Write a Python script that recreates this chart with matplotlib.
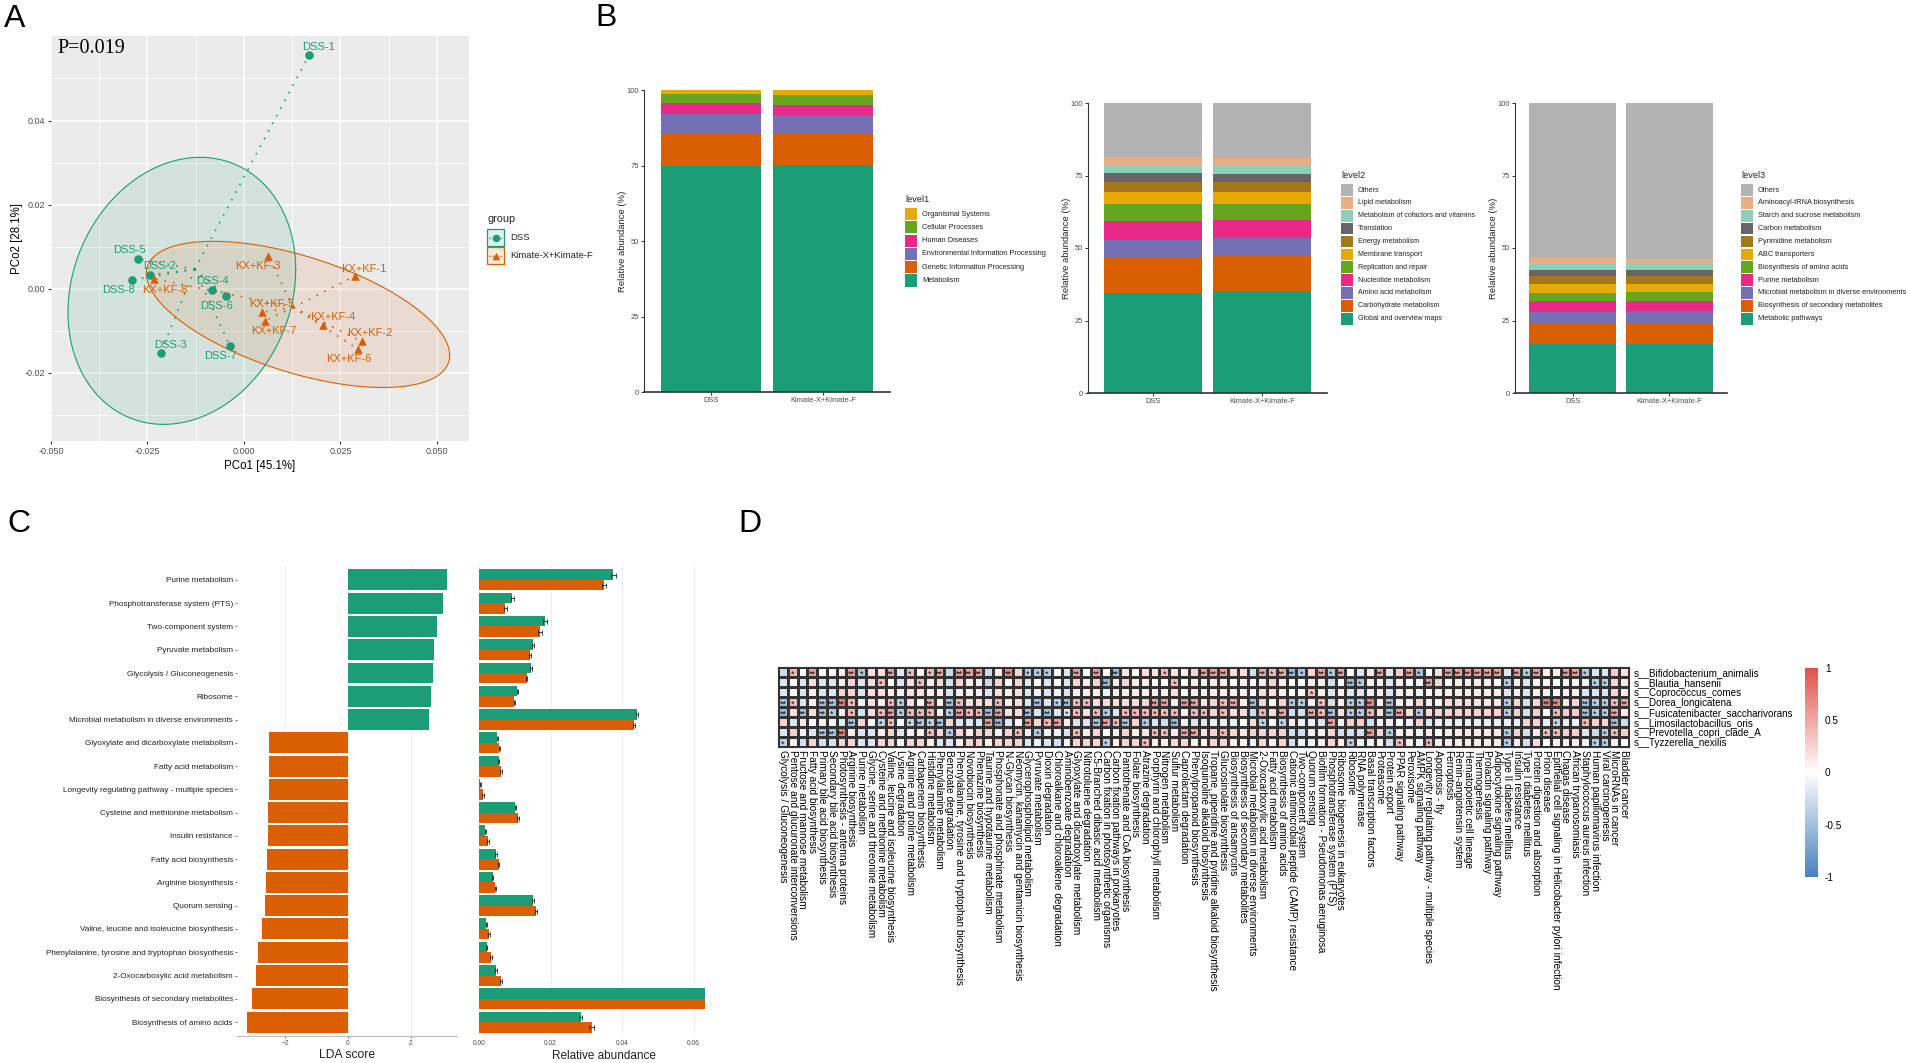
import numpy as np
import matplotlib
matplotlib.use("Agg")
import matplotlib.pyplot as plt
from matplotlib.colors import LinearSegmentedColormap, Normalize
from matplotlib.cm import ScalarMappable
from matplotlib.patches import Rectangle

plt.rcParams['font.family'] = ['Liberation Sans', 'DejaVu Sans']

W, H = 1910, 1063
GREEN, ORANGE = '#1B9E77', '#D95F02'
PALETTE = ['#1B9E77', '#D95F02', '#7570B3', '#E7298A', '#66A61E', '#E6AB02',
           '#A6761D', '#666666', '#8DCFB9', '#EBAD82', '#B3B3B3']

# --- Panel A data ---
dss_names = ['DSS-1', 'DSS-2', 'DSS-3', 'DSS-4', 'DSS-5', 'DSS-6', 'DSS-7', 'DSS-8']
dss_x = [0.0169, -0.0244, -0.0216, -0.0084, -0.0274, -0.0046, -0.0036, -0.0290]
dss_y = [0.0556, 0.0033, -0.0153, -0.0002, 0.0071, -0.0017, -0.0137, 0.0021]
dss_label_x = [0.0192, -0.0219, -0.0191, -0.0083, -0.0298, -0.0070, -0.0061, -0.0325]
dss_label_y = [0.0576, 0.0054, -0.0134, 0.0018, 0.0092, -0.0041, -0.0159, -0.0002]
kx_names = ['KX+KF-1', 'KX+KF-2', 'KX+KF-3', 'KX+KF-4', 'KX+KF-5', 'KX+KF-6', 'KX+KF-7', 'KX+KF-8']
kx_x = [0.0287, 0.0305, 0.0062, 0.0206, 0.0046, 0.0296, 0.0054, -0.0234]
kx_y = [0.0030, -0.0125, 0.0079, -0.0086, -0.0056, -0.0144, -0.0076, 0.0024]
kx_label_x = [0.0310, 0.0327, 0.0036, 0.0230, 0.0071, 0.0272, 0.0076, -0.0206]
kx_label_y = [0.0048, -0.0106, 0.0055, -0.0067, -0.0037, -0.0168, -0.0101, -0.0002]

# ellipse centre, half extents and phase
dss_ellipse = (-0.0161, -0.0005, 0.0295, 0.03175, np.arccos(0.16))
kx_ellipse = (0.0140, -0.0061, 0.0393, 0.01738, np.arccos(-0.56))

# --- Panel B data ---
groups = ['DSS', 'Kimate-X+Kimate-F']
level1_names = ['Metabolism', 'Genetic Information Processing', 'Environmental Information Processing',
                'Human Diseases', 'Cellular Processes', 'Organismal Systems']
level1_dss = [74.7, 11.0, 6.4, 3.6, 3.0, 1.3]
level1_kx = [75.1, 10.6, 6.1, 3.3, 3.2, 1.7]
level2_names = ['Global and overview maps', 'Carbohydrate metabolism', 'Amino acid metabolism',
                'Nucleotide metabolism', 'Replication and repair', 'Membrane transport', 'Energy metabolism',
                'Translation', 'Metabolism of cofactors and vitamins', 'Lipid metabolism', 'Others']
level2_dss = [34.6, 12.0, 6.0, 6.6, 6.0, 4.1, 3.5, 2.9, 3.0, 2.8, 18.5]
level2_kx = [35.3, 11.8, 6.5, 6.1, 5.5, 4.0, 3.4, 2.8, 2.9, 2.8, 18.9]
level3_names = ['Metabolic pathways', 'Biosynthesis of secondary metabolites',
                'Microbial metabolism in diverse environments', 'Purine metabolism',
                'Biosynthesis of amino acids', 'ABC transporters', 'Pyrimidine metabolism', 'Carbon metabolism',
                'Starch and sucrose metabolism', 'Aminoacyl-tRNA biosynthesis', 'Others']
level3_dss = [16.9, 6.8, 4.3, 3.8, 2.8, 2.9, 2.7, 2.3, 2.0, 1.9, 53.6]
level3_kx = [16.9, 6.9, 4.4, 3.5, 3.0, 2.9, 2.6, 2.2, 2.0, 1.8, 53.8]

# --- Panel C data ---
pathways = ['Purine metabolism', 'Phosphotransferase system (PTS)', 'Two-component system', 'Pyruvate metabolism',
            'Glycolysis / Gluconeogenesis', 'Ribosome', 'Microbial metabolism in diverse environments',
            'Glyoxylate and dicarboxylate metabolism', 'Fatty acid metabolism',
            'Longevity regulating pathway - multiple species', 'Cysteine and methionine metabolism',
            'Insulin resistance', 'Fatty acid biosynthesis', 'Arginine biosynthesis', 'Quorum sensing',
            'Valine, leucine and isoleucine biosynthesis', 'Phenylalanine, tyrosine and tryptophan biosynthesis',
            '2-Oxocarboxylic acid metabolism', 'Biosynthesis of secondary metabolites', 'Biosynthesis of amino acids']
lda_score = [3.16, 3.02, 2.84, 2.74, 2.71, 2.65, 2.58, -2.52, -2.52, -2.53, -2.55, -2.56, -2.59, -2.61,
             -2.64, -2.73, -2.86, -2.92, -3.07, -3.23]
abund_dss = [0.0375, 0.0093, 0.0184, 0.0152, 0.0145, 0.0107, 0.0442, 0.0051, 0.0055, 0.0004, 0.0102, 0.0018,
             0.0047, 0.0038, 0.0151, 0.0020, 0.0021, 0.0047, 0.0660, 0.0284]
abund_kx = [0.0349, 0.0073, 0.0171, 0.0142, 0.0133, 0.0099, 0.0434, 0.0057, 0.0061, 0.0012, 0.0109, 0.0025,
            0.0055, 0.0046, 0.0160, 0.0029, 0.0034, 0.0061, 0.0670, 0.0315]
abund_err_dss = [0.0007, 0.0004, 0.0005, 0.0003, 0.0003, 0.0002, 0.0004, 0.0002, 0.0002, 0.0001, 0.0002, 0.0001,
                 0.0002, 0.0002, 0.0002, 0.0001, 0.0002, 0.0002, 0.0006, 0.0005]
abund_err_kx = [0.0005, 0.0004, 0.0005, 0.0003, 0.0002, 0.0002, 0.0002, 0.0002, 0.0002, 0.0003, 0.0002, 0.0002,
                0.0002, 0.0002, 0.0002, 0.0003, 0.0003, 0.0003, 0.0006, 0.0007]

# --- Panel D data ---
species = ['s__Bifidobacterium_animalis', 's__Blautia_hansenii', 's__Coprococcus_comes', 's__Dorea_longicatena',
           's__Fusicatenibacter_saccharivorans', 's__Limosilactobacillus_oris', 's__Prevotella_copri_clade_A',
           's__Tyzzerella_nexilis']
kegg_terms = ['Glycolysis / Gluconeogenesis', 'Pentose and glucuronate interconversions',
              'Fructose and mannose metabolism', 'Fatty acid biosynthesis', 'Primary bile acid biosynthesis',
              'Secondary bile acid biosynthesis', 'Photosynthesis - antenna proteins', 'Arginine biosynthesis',
              'Purine metabolism', 'Glycine, serine and threonine metabolism', 'Cysteine and methionine metabolism',
              'Valine, leucine and isoleucine biosynthesis', 'Lysine degradation', 'Arginine and proline metabolism',
              'Carbapenem biosynthesis', 'Histidine metabolism', 'Phenylalanine metabolism', 'Benzoate degradation',
              'Phenylalanine, tyrosine and tryptophan biosynthesis', 'Novobiocin biosynthesis', 'Phenazine biosynthesis',
              'Taurine and hypotaurine metabolism', 'Phosphonate and phosphinate metabolism', 'N-Glycan biosynthesis',
              'Neomycin, kanamycin and gentamicin biosynthesis', 'Glycerophospholipid metabolism', 'Pyruvate metabolism',
              'Dioxin degradation', 'Chloroalkane and chloroalkene degradation', 'Aminobenzoate degradation',
              'Glyoxylate and dicarboxylate metabolism', 'Nitrotoluene degradation', 'C5-Branched dibasic acid metabolism',
              'Carbon fixation in photosynthetic organisms', 'Carbon fixation pathways in prokaryotes',
              'Pantothenate and CoA biosynthesis', 'Folate biosynthesis', 'Atrazine degradation',
              'Porphyrin and chlorophyll metabolism', 'Nitrogen metabolism', 'Sulfur metabolism', 'Caprolactam degradation',
              'Phenylpropanoid biosynthesis', 'Isoquinoline alkaloid biosynthesis',
              'Tropane, piperidine and pyridine alkaloid biosynthesis', 'Glucosinolate biosynthesis',
              'Biosynthesis of ansamycins', 'Biosynthesis of secondary metabolites',
              'Microbial metabolism in diverse environments', '2-Oxocarboxylic acid metabolism', 'Fatty acid metabolism',
              'Biosynthesis of amino acids', 'Cationic antimicrobial peptide (CAMP) resistance', 'Two-component system',
              'Quorum sensing', 'Biofilm formation - Pseudomonas aeruginosa', 'Phosphotransferase system (PTS)',
              'Ribosome biogenesis in eukaryotes', 'Ribosome', 'RNA polymerase', 'Basal transcription factors',
              'Proteasome', 'Protein export', 'PPAR signaling pathway', 'Peroxisome', 'AMPK signaling pathway',
              'Longevity regulating pathway - multiple species', 'Apoptosis - fly', 'Ferroptosis',
              'Renin-angiotensin system', 'Hematopoietic cell lineage', 'Thermogenesis', 'Prolactin signaling pathway',
              'Adipocytokine signaling pathway', 'Type II diabetes mellitus', 'Insulin resistance',
              'Type I diabetes mellitus', 'Protein digestion and absorption', 'Prion disease',
              'Epithelial cell signaling in Helicobacter pylori infection', 'Chagas disease', 'African trypanosomiasis',
              'Staphylococcus aureus infection', 'Human papillomavirus infection', 'Viral carcinogenesis',
              'MicroRNAs in cancer', 'Bladder cancer']

corr_row1 = [-.28, .42, 0, .55, .05, .05, .12, .55, -.45, .2, .2, .55, -.2, .4, .1, .4, .5, -.3, .55, .55, .55, -.3,
             .12, .7, .25, -.42, -.42, -.42, .05, -.2, .55, 0, .55, 0, -.55, .15, 0, .2, .15, .42, .15, .1, .25, .55,
             .55, .55, .2, .2, -.25, .5, .4, .5, -.55, -.45, .25, .55, -.45, .55, 0, -.2, .15, .55, -.2, .3, .55, -.5,
             0, .2, .55, .55, .55, .55, .55, .55, -.2, .55, -.42, .55, .1, .1, .55, .55, -.42, -.2, -.2, .3, .18]
corr_row2 = [-.2, 0, -.2, .2, -.2, -.2, .1, .25, -.2, .2, .38, 0, -.2, .2, .38, .1, .25, -.25, .25, .1, .1, -.3, .25,
             0, .25, -.2, 0, -.2, 0, -.2, .25, .1, .25, -.55, .1, .25, .1, .1, 0, 0, .4, 0, .1, .1, .1, .1, 0, .1, 0,
             .1, .25, .1, 0, 0, .1, .1, -.25, 0, -.55, -.42, .1, .1, -.2, .1, 0, -.1, .55, .25, 0, .1, .1, .1, .1, 0,
             -.42, .1, -.2, .05, .05, 0, .05, .05, -.1, -.4, -.4, .25, .12]
corr_row3 = [-.2, .03, -.2, .1, -.2, -.2, .25, .25, -.2, .2, .2, .1, -.1, .2, .2, .1, .1, -.2, .1, .1, .1, -.2, .2, .1,
             .2, -.2, -.1, -.2, -.1, -.2, .1, .1, .1, -.1, .1, .1, .1, .1, .1, .1, .2, -.05, .1, .1, .1, .1, .1, .1, 0,
             .2, .2, .1, 0, 0, .38, .1, -.2, .1, -.2, -.2, .1, .1, -.2, .1, .1, -.1, 0, .1, .1, .1, .1, .1, .1, .1,
             -.2, .1, -.2, .1, -.1, 0, .1, .1, -.2, -.2, -.2, .25, .12]
corr_row4 = [-.5, .4, -.2, .1, -.5, -.5, .75, .4, -.1, .2, .1, .4, -.4, .2, .05, .5, .1, -.5, .4, .2, .2, .2, .4, .1,
             .2, -.2, -.5, -.2, -.4, -.5, .4, .4, .2, .2, .2, .2, .2, .25, .55, .55, .1, .6, .55, .15, .25, .4, .5, .1,
             -.5, .25, .05, .25, -.42, -.42, .1, .4, -.25, .1, -.42, -.42, .7, .1, -.5, .1, .1, .25, .1, .05, .2, .2,
             .2, .15, .15, .15, -.42, .25, -.25, .25, .75, .7, .15, .25, -.5, -.42, -.42, .42, .55]
corr_row5 = [-.55, .2, -.5, .2, -.5, -.42, .1, .42, -.25, .2, .42, .55, -.42, .42, .42, .42, .1, -.42, .55, .42, .42,
             -.5, .55, .2, .2, -.5, -.2, -.5, -.2, -.2, .42, .2, .42, -.42, -.2, .42, .42, .42, .42, .42, .42, .12, .42,
             .42, .25, .42, .2, .2, -.28, .42, .2, .5, -.25, -.25, .5, .42, -.5, .2, -.42, -.42, .42, .2, -.5, .5, .2,
             -.42, .2, .25, .25, .25, .25, .25, .25, .25, -.42, .28, -.25, .28, .02, .42, .3, .3, -.5, -.42, -.42, .5, .12]
corr_row6 = [.25, -.2, .12, -.05, .1, -.05, -.15, -.5, .25, -.05, -.35, .35, -.05, -.35, -.45, -.35, -.45, .25, -.2,
             -.2, -.2, .55, -.55, -.2, .05, .55, .25, .42, .55, .1, -.2, -.2, -.45, .55, .42, -.45, .25, -.42, -.2, -.25,
             -.55, -.1, -.2, -.2, -.12, -.12, -.12, 0, .2, -.35, 0, -.35, .1, -.1, -.1, -.2, .55, -.1, .28, .28, -.25,
             -.1, .1, 0, -.1, .28, -.2, -.12, -.12, -.12, -.12, -.12, -.12, -.12, -.12, -.12, .25, .25, -.12, -.35, -.12,
             -.1, .42, .25, .25, -.5, -.28]
corr_row7 = [-.2, .28, -.1, -.2, -.5, -.5, .75, .12, -.2, -.2, .1, .25, -.2, .1, .1, .42, .25, -.42, .25, .1, .25, .25,
             -.1, .25, .42, -.1, -.42, -.1, -.1, -.2, .42, .1, .25, 0, .1, .25, .1, .15, .42, .42, .1, .55, .55, .15, .25,
             .42, .25, .15, .25, .25, .25, .25, -.25, -.25, .1, .1, .25, -.25, -.25, -.25, .6, .25, -.42, .1, .1, -.1, .1,
             0, .12, .12, .12, .12, .12, .12, -.42, .28, -.25, .12, .42, .42, .28, .28, -.2, -.3, -.42, .42, .3]
corr_row8 = [-.38, .1, -.25, .25, -.25, -.25, .25, .25, -.2, -.2, .25, .25, -.1, .25, .25, .1, -.2, -.2, .1, .25, .25,
             .1, .25, .25, .25, -.2, -.1, -.2, -.25, -.1, .25, .25, .25, -.38, .1, .25, .25, .42, .1, .1, .25, .25, .1,
             .1, .25, .25, .1, .1, -.1, .25, .1, .25, -.25, -.1, -.1, .1, .25, .1, -.4, -.1, .1, .1, -.25, .4, .1, -.1, .42,
             .12, .12, .12, .12, .12, .12, .12, -.42, .12, -.25, .22, 0, .1, .1, .1, -.1, -.42, -.42, .1, 0]

# 1-based columns carrying one or two significance stars, per row
one_star = [[2, 9, 14, 16, 26, 27, 28, 40, 51, 54, 57, 66, 77, 83],
            [11, 15, 41, 60, 75, 84, 85],
            [55],
            [2, 8, 12, 13, 19, 23, 29, 31, 32, 46, 53, 54, 56, 59, 60, 75, 84, 85, 86],
            [6, 8, 11, 13, 14, 15, 16, 18, 20, 21, 30, 31, 33, 34, 36, 37, 38, 39, 40, 41, 43, 44, 46, 50, 56, 59, 60,
             61, 66, 75, 80, 84, 85],
            [11, 12, 14, 16, 28, 35, 38, 50, 52, 80, 83],
            [16, 18, 25, 27, 31, 39, 40, 46, 63, 75, 79, 80, 85, 86],
            [1, 34, 38, 59, 64, 67, 75, 84, 85]]
two_star = [[4, 8, 12, 17, 19, 20, 21, 24, 31, 33, 35, 44, 45, 46, 50, 52, 53, 56, 58, 62, 65, 69, 70, 71, 72, 73, 74,
             76, 78, 81, 82],
            [34, 59, 67],
            [],
            [1, 5, 6, 7, 16, 18, 27, 30, 39, 40, 42, 43, 47, 49, 61, 63, 79, 80, 83, 87],
            [1, 3, 5, 12, 19, 22, 23, 26, 28, 52, 55, 57, 63, 64, 83, 86],
            [8, 15, 17, 22, 23, 26, 29, 33, 34, 36, 41, 57, 86],
            [5, 6, 7, 42, 43, 61],
            []]


def px_axes(left, top, right, bottom):
    return fig.add_axes([left / W, 1 - bottom / H, (right - left) / W, (bottom - top) / H])


fig = plt.figure(figsize=(W / 100, H / 100), dpi=100, facecolor='white')

# overlay in pixel coordinates for legends and panel letters
ov = fig.add_axes([0, 0, 1, 1], zorder=10)
ov.set_xlim(0, W)
ov.set_ylim(H, 0)
ov.axis('off')
ov.patch.set_alpha(0)

for letter, lx, ly in [('A', 15, 19), ('B', 606, 18), ('C', 19, 524), ('D', 750, 524)]:
    ov.text(lx, ly, letter, fontsize=23, ha='center', va='center', color='black')

# --- Panel A ---
ax = px_axes(51, 36, 469, 441)
ax.set_facecolor('#EBEBEB')
ax.set_xlim(-0.05, 0.0583)
ax.set_ylim(-0.0362, 0.0601)
for side in ax.spines.values():
    side.set_visible(False)
ax.set_xticks([-0.05, -0.025, 0, 0.025, 0.05])
ax.set_xticklabels(['-0.050', '-0.025', '0.000', '0.025', '0.050'])
ax.set_yticks([-0.02, 0, 0.02, 0.04])
ax.set_yticklabels(['-0.02', '0.00', '0.02', '0.04'])
ax.set_xticks(np.arange(-0.0375, 0.05, 0.025), minor=True)
ax.set_yticks(np.arange(-0.03, 0.06, 0.02), minor=True)
ax.grid(which='major', color='white', lw=1.1)
ax.grid(which='minor', color='white', lw=0.55)
ax.set_axisbelow(True)
ax.tick_params(which='minor', length=0)
ax.tick_params(which='major', length=2.5, width=0.8, color='#333333', labelcolor='#4D4D4D', labelsize=6.5, pad=2)
ax.set_xlabel('PCo1 [45.1%]', fontsize=8.3, labelpad=3)
ax.set_ylabel('PCo2 [28.1%]', fontsize=8.3, labelpad=1)

t = np.linspace(0, 2 * np.pi, 240)
for (cx, cy, a, b, phi), col in [(dss_ellipse, GREEN), (kx_ellipse, ORANGE)]:
    ex = cx + a * np.cos(t)
    ey = cy + b * np.cos(t - phi)
    ax.fill(ex, ey, color=col, alpha=0.11, lw=0)
    ax.plot(ex, ey, color=col, lw=0.8)

for xs, ys, col, marker in [(dss_x, dss_y, GREEN, 'o'), (kx_x, kx_y, ORANGE, '^')]:
    mx, my = np.mean(xs), np.mean(ys)
    for px, py in zip(xs, ys):
        ax.plot([mx, px], [my, py], color=col, lw=1.2, ls=(0, (1, 4.2)))
    ax.scatter(xs, ys, s=38, color=col, marker=marker, zorder=3, lw=0)
for names, lxs, lys, col in [(dss_names, dss_label_x, dss_label_y, GREEN), (kx_names, kx_label_x, kx_label_y, ORANGE)]:
    for name, lx, ly in zip(names, lxs, lys):
        ax.text(lx, ly, name, color=col, fontsize=8, ha='center', va='center', zorder=4)

ax.text(0.0165, 0.97, 'P=0.019', transform=ax.transAxes, fontsize=14.5, family='Liberation Serif',
        ha='left', va='center', color='black')

ov.text(487, 219, 'group', fontsize=7.8, va='center', color='#222222')
for i, (name, col, marker) in enumerate([('DSS', GREEN, 'o'), ('Kimate-X+Kimate-F', ORANGE, '^')]):
    ky = 229 + i * 18
    ov.add_patch(Rectangle((487, ky), 17, 17, fc=col, alpha=0.13, ec='none'))
    ov.add_patch(Rectangle((487, ky), 17, 17, fc='none', ec=col, lw=0.9))
    ov.plot([489, 502], [ky + 8.5, ky + 8.5], color=col, lw=1, ls=':')
    ov.scatter([495.5], [ky + 8.5], s=30, color=col, marker=marker, lw=0)
    ov.text(510, ky + 9, name, fontsize=6.8, va='center', color='#222222')


# --- Panel B ---
def stacked(box, dss_vals, kx_vals, names, title, legend_x, legend_y0, pitch, legend_size):
    ax = px_axes(*box)
    for pos, vals in enumerate([dss_vals, kx_vals]):
        ax.bar(pos, vals, width=0.9, bottom=np.cumsum([0] + vals[:-1]), color=PALETTE[:len(vals)], lw=0)
    ax.set_xlim(-0.6, 1.6)
    ax.set_ylim(0, 100)
    ax.set_xticks([0, 1])
    ax.set_xticklabels(groups)
    ax.set_yticks([0, 25, 50, 75, 100])
    ax.spines['top'].set_visible(False)
    ax.spines['right'].set_visible(False)
    ax.spines['left'].set_color('#333333')
    ax.spines['bottom'].set_color('#333333')
    ax.spines['bottom'].set_linewidth(1.2)
    ax.tick_params(length=2, width=0.7, color='#333333', labelcolor='#4D4D4D', labelsize=5.4, pad=1.5)
    ax.set_ylabel('Relative abundance (%)', fontsize=6.8, color='#222222', labelpad=0)
    ov.text(legend_x, legend_y0 - 15, title, fontsize=6.6, va='center', color='#222222')
    for i, name in enumerate(reversed(names)):
        col = PALETTE[len(names) - 1 - i]
        cy = legend_y0 + i * pitch
        ov.add_patch(Rectangle((legend_x, cy - pitch / 2 + 0.6), 12, pitch - 1.2, fc=col, ec='none'))
        ov.text(legend_x + 17, cy, name, fontsize=legend_size, va='center', color='#222222')


stacked((644, 90, 890, 392), level1_dss, level1_kx, level1_names, 'level1', 905, 214, 13.3, 5.3)
stacked((1088, 103, 1327, 393), level2_dss, level2_kx, level2_names, 'level2', 1341, 190, 12.87, 5.1)
stacked((1515, 103, 1727, 393), level3_dss, level3_kx, level3_names, 'level3', 1741, 190, 12.87, 5.3)

# --- Panel C ---
rows = np.arange(len(pathways))
ax = px_axes(237, 566, 457, 1036)
ax.barh(rows, lda_score, height=0.9, color=[GREEN if v > 0 else ORANGE for v in lda_score], lw=0, zorder=2)
ax.set_ylim(len(pathways) - 0.4, -0.6)
ax.set_xlim((237 - 348) / 31.4, (457 - 348) / 31.4)
ax.set_yticks(rows)
ax.set_yticklabels(pathways)
ax.set_xticks([-2, 0, 2])
ax.grid(axis='x', color='#EBEBEB', lw=0.6)
ax.set_axisbelow(True)
for side in ['top', 'right', 'left']:
    ax.spines[side].set_visible(False)
ax.spines['bottom'].set_color('#BDBDBD')
ax.tick_params(axis='y', length=1.5, width=0.6, color='#555555', labelsize=5.85, labelcolor='#222222', pad=1.5)
ax.tick_params(axis='x', length=1.5, width=0.6, color='#555555', labelsize=4.8, labelcolor='#4D4D4D', pad=1.5)
ax.set_xlabel('LDA score', fontsize=8.7, labelpad=1.5, color='#222222')

ax = px_axes(479, 566, 705, 1036)
off = 0.225
ax.barh(rows - off, abund_dss, height=0.45, color=GREEN, lw=0, zorder=2)
ax.barh(rows + off, abund_kx, height=0.45, color=ORANGE, lw=0, zorder=2)
ax.errorbar(abund_dss, rows - off, xerr=abund_err_dss, fmt='none', ecolor='#222222', elinewidth=0.6, capsize=1.8,
            capthick=0.6, zorder=3)
ax.errorbar(abund_kx, rows + off, xerr=abund_err_kx, fmt='none', ecolor='#222222', elinewidth=0.6, capsize=1.8,
            capthick=0.6, zorder=3)
ax.set_ylim(len(pathways) - 0.4, -0.6)
ax.set_xlim(0, 226 / 3575)
ax.set_yticks([])
ax.set_xticks([0, 0.02, 0.04, 0.06])
ax.set_xticklabels(['0.00', '0.02', '0.04', '0.06'])
ax.grid(axis='x', color='#EBEBEB', lw=0.6)
ax.set_axisbelow(True)
for side in ax.spines.values():
    side.set_visible(False)
ax.tick_params(axis='x', length=0, labelsize=4.8, labelcolor='#4D4D4D', pad=3)
ax.set_xlabel('Relative abundance', fontsize=8.5, color='#222222')
ax.xaxis.set_label_coords(0.553, -0.03)

# --- Panel D ---
corr = np.array([corr_row1, corr_row2, corr_row3, corr_row4, corr_row5, corr_row6, corr_row7, corr_row8])
cmap = LinearSegmentedColormap.from_list('rwb', ['#4682BE', '#FFFFFF', '#E0524A'])
norm = Normalize(-1, 1)
ax = px_axes(778, 667, 1629, 747)
ax.pcolormesh(np.arange(corr.shape[1] + 1), np.arange(corr.shape[0] + 1), corr, cmap=cmap, norm=norm,
              edgecolors='#333333', linewidth=0.75)
ax.set_ylim(corr.shape[0], 0)
ax.set_xlim(0, corr.shape[1])
for r in range(corr.shape[0]):
    for c in one_star[r]:
        ax.text(c - 0.5, r + 0.68, '*', fontsize=6.5, ha='center', va='center', color='#111111')
    for c in two_star[r]:
        ax.text(c - 0.5, r + 0.68, '**', fontsize=6.5, ha='center', va='center', color='#111111')
ax.set_xticks(np.arange(corr.shape[1]) + 0.5)
ax.set_xticklabels(kegg_terms, rotation=270, ha='center', va='top', fontsize=7.25, color='black')
ax.xaxis.set_ticks_position('bottom')
ax.yaxis.tick_right()
ax.set_yticks(np.arange(corr.shape[0]) + 0.5)
ax.set_yticklabels(species, fontsize=7.1, color='black')
ax.tick_params(axis='y', length=0, pad=3.5)
ax.tick_params(axis='x', length=0, pad=2.5)
for side in ax.spines.values():
    side.set_color('#333333')

cax = px_axes(1805, 668, 1818, 877)
cb = fig.colorbar(ScalarMappable(norm=norm, cmap=cmap), cax=cax, ticks=[-1, -0.5, 0, 0.5, 1])
cb.ax.set_yticklabels(['-1', '-0.5', '0', '0.5', '1'])
cb.outline.set_visible(False)
cb.ax.tick_params(length=0, labelsize=7.2, pad=5)

fig.savefig('out.png', dpi=100)
